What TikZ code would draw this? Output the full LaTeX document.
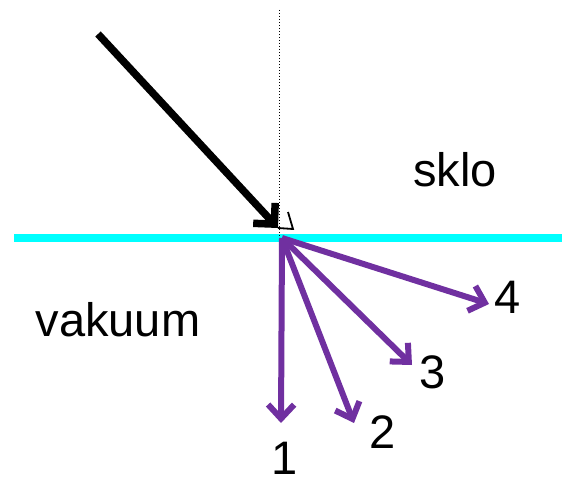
\documentclass[tikz,border=0pt]{standalone}
\usepackage{fontspec}
\setmainfont{Liberation Sans}
\usepackage{xcolor}
\usetikzlibrary{arrows.meta,positioning,calc}
\definecolor{rayPurple}{HTML}{7030A0}
\definecolor{surfCyan}{HTML}{00FFFF}

\begin{document}
\begin{tikzpicture}[
    x=1pt,y=-1pt,
    every node/.style={font=\fontsize{47}{52}\selectfont,inner sep=0pt},
    surface/.style={line width=7.5pt,surfCyan},
    normal/.style={line width=1pt,dotted},
    incident/.style={line width=7.5pt,line join=round,
                  -{Straight Barb[length=15pt,width=30pt,line width=7.5pt]}},
    refr/.style={line width=6pt,rayPurple,line join=round,
                  -{Straight Barb[length=14pt,width=26pt,line width=6pt]}},
    anglemark/.style={line width=1.8pt}
  ]
  \useasboundingbox (0,0) rectangle (562,478);
  \coordinate (O) at (282,238);
  \coordinate (S) at (98,34);
  \coordinate (N) at (279,10);
  \coordinate (Wl) at (14,238);
  \coordinate (Wr) at (562,238);
  \draw[surface] (Wl) -- (Wr);
  \draw[normal] (N) -- (279,238);
  \draw[incident] (S) -- (278,228);
  \draw[anglemark] (288,212) -- (293,229) -- (278,228);
  %% refracted rays
  \coordinate (T1) at (281,423);
  \coordinate (T2) at (354,423);
  \coordinate (T3) at (412,365);
  \coordinate (T4) at (489,304);
  \foreach \t in {T1,T2,T3,T4}
    \draw[refr] (O) -- (\t);
  \node (n1) at (285,458) {1};
  \node (n2) at (383,432) {2};
  \node (n3) at (433,372) {3};
  \node (n4) at (508,297) {4};
  \node (glass) at (455,170) {sklo};
  \node (vac) at (118,320) {vakuum};
\end{tikzpicture}
\end{document}
